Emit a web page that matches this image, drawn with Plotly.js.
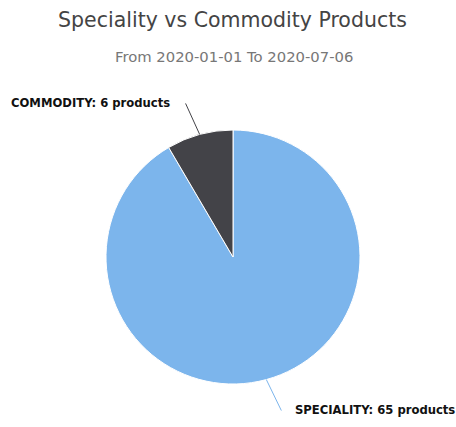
<!DOCTYPE html>
<html>
<head>
<meta charset="utf-8">
<script src="https://cdn.plot.ly/plotly-3.0.1.min.js"></script>
<style>html,body{margin:0;padding:0;background:#fff;}#chart{width:456px;height:427px;}</style>
</head>
<body>
<div id="chart"></div>
<script>
const categories = ['SPECIALITY', 'COMMODITY'];
const productCounts = [65, 6];
const sliceColors = ['#7cb5ec', '#434348'];
const chartTitle = 'Speciality vs Commodity Products';
const chartSubtitle = 'From 2020-01-01 To 2020-07-06';

const W = 456, H = 427;
const cx = 233, cy = 257, R = 127; // pie centre and radius in pixels
const domX = [(cx - R) / W, (cx + R) / W];
const domY = [(H - cy - R) / H, (H - cy + R) / H];

// label placement offsets (pixels) relative to slice edge midpoint
const connectorOffsets = [[16, 33], [-15, -33]];
const labelOffsets = [[27, 30], [-28, -31]];
const labelAnchors = ['left', 'right'];

const total = productCounts.reduce((a, b) => a + b, 0);
const annotations = [];
let cum = 0;
productCounts.forEach((v, i) => {
  const mid = (cum + v / 2) / total * 2 * Math.PI; // clockwise from top
  cum += v;
  const ex = cx + R * Math.sin(mid);
  const ey = cy - R * Math.cos(mid);
  annotations.push({
    x: ex / W, y: 1 - ey / H, xref: 'paper', yref: 'paper',
    text: ' ', showarrow: true, arrowhead: 0, arrowwidth: 1,
    arrowcolor: sliceColors[i], standoff: 0, startstandoff: 0,
    ax: connectorOffsets[i][0], ay: connectorOffsets[i][1],
    font: {size: 1}
  });
  annotations.push({
    x: (ex + labelOffsets[i][0]) / W, y: 1 - (ey + labelOffsets[i][1]) / H,
    xref: 'paper', yref: 'paper', xanchor: labelAnchors[i], yanchor: 'middle',
    showarrow: false,
    text: '<b>' + categories[i] + ': ' + v + ' products</b>',
    font: {family: 'DejaVu Sans', size: 11.6, color: '#111111'}
  });
});

annotations.push({
  x: 233.5 / W, y: 1 - 56 / H, xref: 'paper', yref: 'paper', xanchor: 'center', yanchor: 'middle',
  showarrow: false, text: chartSubtitle,
  font: {family: 'DejaVu Sans', size: 14.8, color: '#777777'}
});

const data = [{
  type: 'pie',
  labels: categories,
  values: productCounts,
  sort: false,
  direction: 'clockwise',
  rotation: 0,
  marker: {colors: sliceColors, line: {color: '#ffffff', width: 1}},
  textinfo: 'none',
  hoverinfo: 'label+value',
  domain: {x: domX, y: domY},
  showlegend: false
}];

const layout = {
  width: W, height: H,
  margin: {l: 0, r: 0, t: 0, b: 0},
  paper_bgcolor: '#ffffff',
  title: {
    text: chartTitle,
    x: 232.5 / W, xanchor: 'center', xref: 'paper',
    y: 1 - 20 / H, yanchor: 'middle', yref: 'container',
    font: {family: 'DejaVu Sans', size: 20.5, color: '#444444'}
  },
  annotations: annotations,
  showlegend: false
};

Plotly.newPlot('chart', data, layout, {displayModeBar: false, staticPlot: true});
</script>
</body>
</html>
